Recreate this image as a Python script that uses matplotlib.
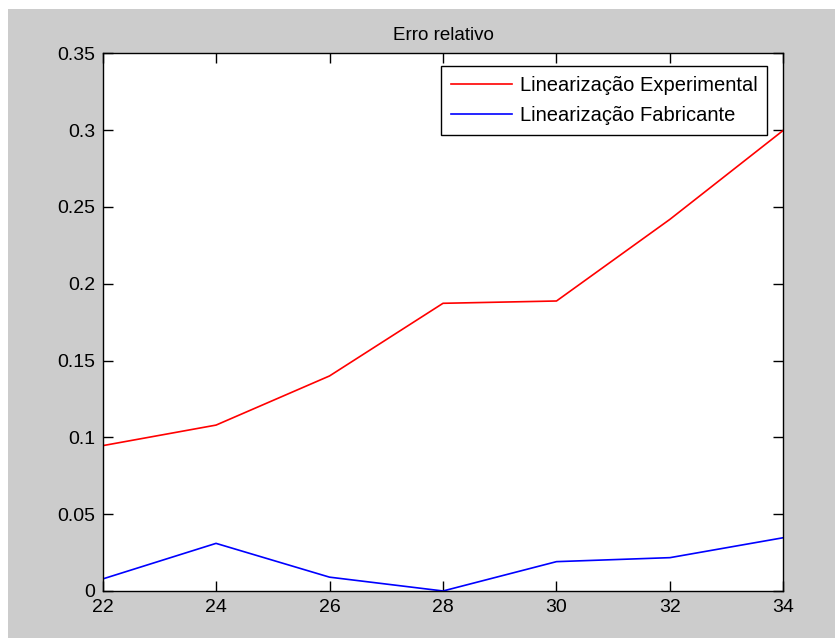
import matplotlib.pyplot as plt
from matplotlib.patches import Rectangle

plt.rcParams['font.family'] = ['Liberation Sans', 'DejaVu Sans']

temperatura = [22, 24, 26, 28, 30, 32, 34]
erro_experimental = [0.0946, 0.108, 0.140, 0.1873, 0.1888, 0.242, 0.300]
erro_fabricante = [0.0078, 0.031, 0.009, 0.0, 0.0191, 0.0217, 0.0347]

fig = plt.figure(figsize=(8.35, 6.38), dpi=100, facecolor='white')
# fundo cinza da janela
fig.patches.append(Rectangle((8 / 835, 0), 1, (638 - 9) / 638, transform=fig.transFigure,
                             facecolor='#cccccc', edgecolor='none', zorder=-10))

ax = fig.add_axes([0.1228, 0.0737, 0.8155, 0.8426])
ax.plot(temperatura, erro_experimental, color='red', lw=1.2, label='Linearização Experimental')
ax.plot(temperatura, erro_fabricante, color='blue', lw=1.2, label='Linearização Fabricante')

ax.set_xlim(22, 34)
ax.set_ylim(0, 0.35)
ax.set_xticks(range(22, 35, 2))
ax.set_yticks([0, 0.05, 0.1, 0.15, 0.2, 0.25, 0.3, 0.35])
ax.set_yticklabels(['0', '0.05', '0.1', '0.15', '0.2', '0.25', '0.3', '0.35'])
ax.tick_params(direction='in', length=7, width=1, top=True, right=True,
               labelsize=14, colors='black')
ax.tick_params(axis='x', pad=6)
ax.tick_params(axis='y', pad=5)
for s in ax.spines.values():
    s.set_linewidth(1)
ax.set_title('Erro relativo', fontsize=13.5, pad=10)

leg = ax.legend(loc='upper right', bbox_to_anchor=(0.9765, 0.9766), fontsize=14.5,
                fancybox=False, framealpha=1, edgecolor='black', borderaxespad=0,
                handlelength=3.0, handletextpad=0.4, labelspacing=0.55, borderpad=0.5)
leg.get_frame().set_linewidth(1)

fig.savefig('out.png', dpi=100)
